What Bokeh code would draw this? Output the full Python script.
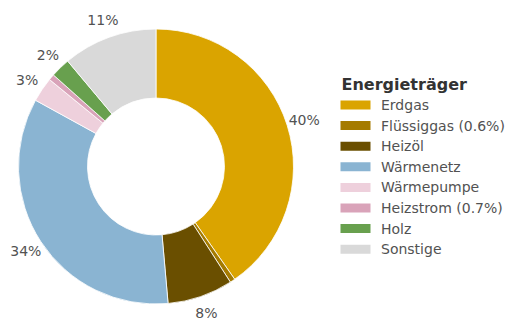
import numpy as np
from bokeh.plotting import figure
from bokeh.models import Range1d, ColumnDataSource
from bokeh.core.properties import value
from bokeh.embed import file_html
from bokeh.resources import INLINE

# ---- data ----
categories = ["Erdgas", "Flüssiggas", "Heizöl", "Wärmenetz", "Wärmepumpe", "Heizstrom", "Holz", "Sonstige"]
shares = [40.3, 0.6, 7.7, 34.4, 2.9, 0.7, 2.3, 11.1]
legend_labels = ["Erdgas", "Flüssiggas (0.6%)", "Heizöl", "Wärmenetz", "Wärmepumpe",
                 "Heizstrom (0.7%)", "Holz", "Sonstige"]
colors = ["#DAA400", "#A57B00", "#6A4F00", "#8AB4D2", "#EED0DC", "#D9A3B9", "#68A04E", "#D9D9D9"]
legend_title = "Energieträger"

W, H = 508, 321
FONT = "DejaVu Sans"
TXT = "#525252"

p = figure(width=W, height=H, output_backend="svg", toolbar_location=None,
           x_range=Range1d(0, W), y_range=Range1d(0, H), min_border=0)
p.axis.visible = False
p.grid.visible = False
p.outline_line_color = None
p.background_fill_color = "white"
p.border_fill_color = "white"

def Y(ry):
    return H - ry

cx, cy = 155.5, Y(166.0)
R_out, R_in = 137.5, 68.5

vals = np.array(shares, dtype=float)
frac = vals / vals.sum()
cum_end = np.cumsum(frac)
cum_start = cum_end - frac
start = np.pi / 2 - 2 * np.pi * cum_start
end = np.pi / 2 - 2 * np.pi * cum_end

src = ColumnDataSource(dict(x=[cx] * len(vals), y=[cy] * len(vals),
                            start=start, end=end, color=colors))
p.annular_wedge(x="x", y="y", inner_radius=R_in, outer_radius=R_out,
                start_angle="start", end_angle="end", direction="clock",
                fill_color="color", line_color="white", line_width=0.8, source=src)

# percentage labels (only for slices >= 1.5%)
mid = np.pi / 2 - 2 * np.pi * (cum_start + frac / 2)
rl = R_out * 1.13
lx, ly, lt = [], [], []
for v, m in zip(vals, mid):
    if v >= 1.5:
        lx.append(cx + rl * np.cos(m))
        ly.append(cy + rl * np.sin(m))
        lt.append(f"{round(v):.0f}%")
p.text(x=lx, y=ly, text=lt, text_align="center", text_baseline="middle",
       text_font=value(FONT), text_font_size="14px", text_color=TXT)

# legend (manual)
lg_x, lg_y0, lg_dy = 341, Y(104.5), 20.6
p.text(x=[lg_x], y=[Y(83.5)], text=[legend_title], text_align="left",
       text_baseline="middle", text_font=value(FONT), text_font_size="16px",
       text_font_style="bold", text_color="#333333")
ys = [lg_y0 - i * lg_dy for i in range(len(legend_labels))]
p.rect(x=[lg_x + 14] * len(ys), y=ys, width=30, height=9, fill_color=colors, line_color=None)
p.text(x=[lg_x + 39.5] * len(ys), y=ys, text=legend_labels, text_align="left",
       text_baseline="middle", text_font=value(FONT), text_font_size="14px", text_color=TXT)

open("out.html", "w").write(file_html(p, INLINE))
